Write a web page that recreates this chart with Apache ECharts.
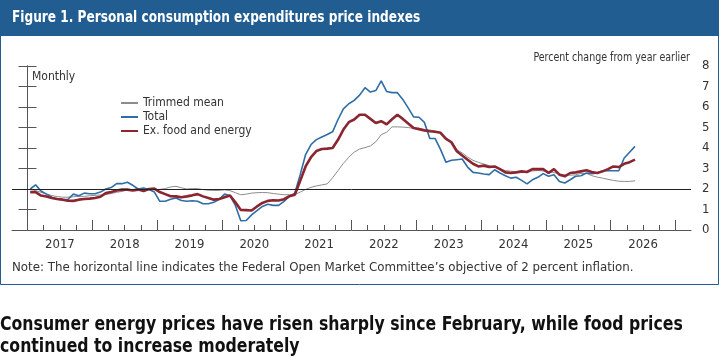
<!DOCTYPE html>
<html lang="en">
<head>
<meta charset="UTF-8">
<title>Figure 1. Personal consumption expenditures price indexes</title>
<script src="https://cdn.jsdelivr.net/npm/echarts@6/dist/echarts.min.js"></script>
<style>
  html, body { margin: 0; padding: 0; background: #fff; }
  #main { width: 721px; height: 361px; }
</style>
</head>
<body>
<div id="main"></div>
<script>
// monthly, Jan 2017 .. May 2026, percent change from year earlier
var yearLabels = ['2017', '2018', '2019', '2020', '2021', '2022', '2023', '2024', '2025', '2026'];

var trimmedMean = [
  2.0, 1.92, 1.84, 1.76, 1.68, 1.63, 1.6, 1.6, 1.62, 1.64, 1.64, 1.67,
  1.69, 1.71, 1.73, 1.78, 1.84, 1.88, 1.95, 1.98, 2.0, 2.0, 2.0, 1.98,
  1.98, 2.02, 2.1, 2.13, 2.06, 2.0, 2.02, 2.02, 1.97, 1.94, 1.93, 1.93,
  1.96, 1.92, 1.82, 1.72, 1.75, 1.8, 1.82, 1.83, 1.82, 1.78, 1.75, 1.72,
  1.72, 1.73, 1.85, 1.98, 2.08, 2.15, 2.2, 2.25, 2.55, 2.9, 3.25, 3.55,
  3.8, 3.95, 4.02, 4.1, 4.3, 4.65, 4.77, 5.03, 5.03, 5.02, 5.0, 4.95,
  4.96, 4.88, 4.88, 4.82, 4.75, 4.49, 4.33, 3.92, 3.76, 3.56, 3.4, 3.3,
  3.22, 3.14, 3.07, 2.97, 2.9, 2.87, 2.84, 2.84, 2.86, 2.88, 2.9, 2.88,
  2.86, 2.8, 2.73, 2.69, 2.67, 2.69, 2.76, 2.76, 2.65, 2.58, 2.53, 2.47,
  2.42, 2.38, 2.37, 2.37, 2.4
];

var total = [
  2.0, 2.2, 1.9, 1.75, 1.6, 1.5, 1.48, 1.5, 1.75, 1.67, 1.8, 1.77,
  1.77, 1.85, 2.0, 2.07, 2.26, 2.26, 2.33, 2.18, 2.0, 2.05, 1.97, 1.85,
  1.4, 1.4, 1.5, 1.56, 1.44, 1.4, 1.43, 1.4, 1.28, 1.28, 1.35, 1.5,
  1.75, 1.67, 1.2, 0.45, 0.46, 0.74, 0.95, 1.15, 1.26, 1.2, 1.2, 1.4,
  1.64, 1.8, 2.7, 3.68, 4.17, 4.41, 4.54, 4.66, 4.79, 5.39, 5.91, 6.16,
  6.32, 6.58, 6.94, 6.73, 6.8, 7.27, 6.76, 6.7, 6.7, 6.37, 5.96, 5.52,
  5.5, 5.25, 4.46, 4.46, 3.92, 3.3, 3.4, 3.43, 3.46, 3.07, 2.81, 2.78,
  2.73, 2.7, 2.94, 2.78, 2.65, 2.53, 2.57, 2.42, 2.25, 2.45, 2.57, 2.75,
  2.62, 2.7, 2.37, 2.29, 2.45, 2.62, 2.65, 2.78, 2.75, 2.78, 2.89, 2.89,
  2.89, 2.89, 3.51, 3.79, 4.08
];

var exFoodEnergy = [
  1.85, 1.85, 1.68, 1.63, 1.56, 1.51, 1.48, 1.43, 1.42, 1.48, 1.51, 1.53,
  1.56, 1.62, 1.8, 1.85, 1.93, 1.97, 1.97, 1.93, 1.97, 1.9, 2.0, 2.02,
  1.85, 1.75, 1.65, 1.64, 1.6, 1.64, 1.69, 1.75, 1.64, 1.56, 1.48, 1.51,
  1.6, 1.68, 1.35, 0.98, 0.97, 0.95, 1.15, 1.32, 1.42, 1.45, 1.44, 1.5,
  1.65, 1.72, 2.4, 3.1, 3.55, 3.85, 3.95, 3.97, 4.0, 4.4, 4.9, 5.26,
  5.39, 5.62, 5.62, 5.42, 5.22, 5.31, 5.15, 5.4, 5.62, 5.42, 5.2, 4.98,
  4.92, 4.86, 4.82, 4.79, 4.74, 4.44, 4.28, 3.84, 3.63, 3.43, 3.23, 3.1,
  3.14, 3.07, 3.1, 2.97, 2.81, 2.78, 2.81, 2.86, 2.83, 2.97, 2.97, 2.97,
  2.78, 2.97, 2.7, 2.62, 2.78, 2.81, 2.86, 2.91, 2.83, 2.78, 2.86, 2.97,
  3.1, 3.07, 3.23, 3.31, 3.43
];

var fomcObjective = 2;

var NARROW = "'Liberation Sans Narrow', 'DejaVu Sans Condensed', 'Liberation Sans', sans-serif";
var FRAME = '#215d91';
var AXIS = '#555';

// x is months since Jan 2017; each point sits mid-month
var yearStarts = [];
var midYears = [];
var quarters = [];
for (var i = 0; i <= yearLabels.length; i++) yearStarts.push(i * 12);
for (var j = 0; j < yearLabels.length; j++) midYears.push(j * 12 + 6);
for (var q = 3; q < yearLabels.length * 12; q += 3) if (q % 12 != 0) quarters.push(q);

function points(arr) {
  return arr.map(function (v, k) { return [k + 0.5, v]; });
}

var xMin = -2.87, xMax = 122.87;

var myChart = echarts.init(document.getElementById('main'));

var option = {
  animation: false,
  grid: { left: 12, right: 30, top: 66, bottom: 131 },
  legend: {
    orient: 'vertical',
    left: 115,
    top: 92,
    itemWidth: 17,
    itemHeight: 10,
    itemGap: 2,
    itemStyle: { opacity: 0, color: 'rgba(0,0,0,0)', borderWidth: 0 },
    textStyle: { fontSize: 12, lineHeight: 12, color: '#333', fontFamily: NARROW },
    data: ['Trimmed mean', 'Total', 'Ex. food and energy']
  },
  xAxis: [
    {
      type: 'value',
      min: xMin,
      max: xMax,
      splitLine: { show: false },
      axisLine: { lineStyle: { color: AXIS, width: 1 } },
      axisTick: { inside: true, length: 10, customValues: yearStarts, lineStyle: { color: AXIS } },
      axisLabel: {
        customValues: midYears,
        formatter: function (v) { return yearLabels[(v - 6) / 12]; },
        color: '#333', fontSize: 13, fontFamily: NARROW, margin: 8
      }
    },
    {
      type: 'value',
      position: 'bottom',
      min: xMin,
      max: xMax,
      splitLine: { show: false },
      axisLine: { show: false },
      axisTick: { inside: true, length: 5, customValues: quarters, lineStyle: { color: AXIS } },
      axisLabel: { show: false }
    }
  ],
  yAxis: [
    {
      type: 'value',
      position: 'right',
      min: 0, max: 8, interval: 1,
      splitLine: { show: false },
      axisLine: { show: true, lineStyle: { color: AXIS } },
      axisTick: { show: true, inside: true, length: 9, lineStyle: { color: AXIS } },
      axisLabel: { color: '#333', fontSize: 13, fontFamily: NARROW, margin: 11 }
    },
    {
      type: 'value',
      position: 'left',
      min: 0, max: 8, interval: 1,
      splitLine: { show: false },
      axisLine: { show: true, lineStyle: { color: AXIS } },
      axisTick: { show: true, inside: true, length: 9, lineStyle: { color: AXIS } },
      axisLabel: { show: false }
    }
  ],
  series: [
    {
      name: 'Trimmed mean',
      type: 'line',
      symbol: 'none',
      data: points(trimmedMean),
      lineStyle: { color: '#8c8c8c', width: 1 },
      itemStyle: { color: '#8c8c8c' },
      markLine: {
        silent: true,
        symbol: ['none', 'none'],
        label: { show: false },
        lineStyle: { color: '#222', width: 1, type: 'solid' },
        data: [{ yAxis: fomcObjective }]
      }
    },
    {
      name: 'Total',
      type: 'line',
      symbol: 'none',
      data: points(total),
      lineStyle: { color: '#2e6da6', width: 1.6 },
      itemStyle: { color: '#2e6da6' }
    },
    {
      name: 'Ex. food and energy',
      type: 'line',
      symbol: 'none',
      data: points(exFoodEnergy),
      lineStyle: { color: '#8b2530', width: 2.6 },
      itemStyle: { color: '#8b2530' }
    }
  ],
  graphic: [
    { type: 'rect', silent: true, z: -1, shape: { x: 0.5, y: 0.5, width: 718, height: 284 },
      style: { fill: 'none', stroke: FRAME, lineWidth: 1 } },
    { type: 'rect', silent: true, shape: { x: 0, y: 0, width: 719, height: 36 },
      style: { fill: FRAME } },
    { type: 'text', silent: true, x: 12, y: 18, scaleX: 0.9,
      style: { text: 'Figure 1. Personal consumption expenditures price indexes', fill: '#fff',
               font: 'bold 15px ' + NARROW, verticalAlign: 'middle' } },
    { type: 'text', silent: true, x: 690, y: 58, scaleX: 0.88,
      style: { text: 'Percent change from year earlier', fill: '#333',
               font: '12px ' + NARROW, align: 'right', verticalAlign: 'middle' } },
    { type: 'text', silent: true, x: 32, y: 77,
      style: { text: 'Monthly', fill: '#333', font: '12px ' + NARROW, verticalAlign: 'middle' } },
    { type: 'text', silent: true, x: 12, y: 268, scaleX: 1.012,
      style: { text: 'Note: The horizontal line indicates the Federal Open Market Committee\u2019s objective of 2 percent inflation.',
               fill: '#333', font: '13px ' + NARROW, verticalAlign: 'middle' } },
    { type: 'text', silent: true, x: 0, y: 325, scaleX: 0.92,
      style: { text: 'Consumer energy prices have risen sharply since February, while food prices',
               fill: '#111', font: 'bold 19px ' + NARROW, verticalAlign: 'middle' } },
    { type: 'text', silent: true, x: 0, y: 347, scaleX: 0.92,
      style: { text: 'continued to increase moderately',
               fill: '#111', font: 'bold 19px ' + NARROW, verticalAlign: 'middle' } }
  ]
};

myChart.setOption(option);
</script>
</body>
</html>
